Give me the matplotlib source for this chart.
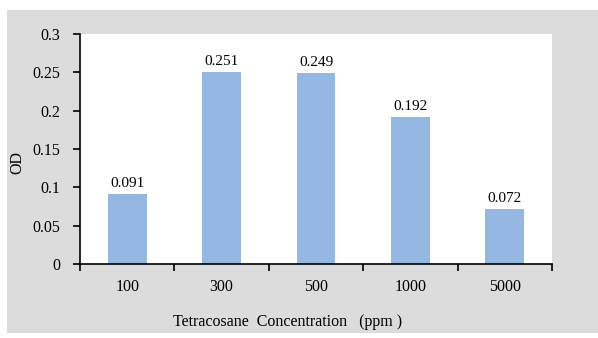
import matplotlib.pyplot as plt
import matplotlib.patches as mpatches
import numpy as np

concentraciones = ['100', '300', '500', '1000', '5000']
od = [0.091, 0.251, 0.249, 0.192, 0.072]
yticks = [0, 0.05, 0.1, 0.15, 0.2, 0.25, 0.3]
ytick_labels = ['0', '0.05', '0.1', '0.15', '0.2', '0.25', '0.3']

plt.rcParams['font.family'] = ['Liberation Serif', 'DejaVu Serif']

W, H = 598, 338
fig = plt.figure(figsize=(W / 100, H / 100), dpi=100)
fig.patch.set_facecolor('white')

# panel gris de fondo
fondo = mpatches.Rectangle((7 / W, 5 / H), (W - 7) / W, (328 - 5) / H,
                           transform=fig.transFigure, facecolor='#dcdcdc',
                           edgecolor='none', zorder=-10)
fig.patches.append(fondo)

ax = fig.add_axes([80 / W, (H - 264) / H, (552 - 80) / W, (264 - 34) / H])
ax.set_facecolor('white')
ax.set_zorder(1)

x = np.arange(len(concentraciones))
ax.bar(x, od, width=0.41, color='#95b8e3', zorder=2)

for xi, v in zip(x, od):
    ax.text(xi, v + 0.005, f'{v:.3f}', ha='center', va='bottom', fontsize=11)

ax.set_xlim(-0.5, len(concentraciones) - 0.5)
ax.set_ylim(0, 0.3)
ax.set_yticks(yticks)
ax.set_yticklabels(ytick_labels, fontsize=11.5)
ax.set_xticks(x)
ax.set_xticklabels(concentraciones, fontsize=11.5)
ax.tick_params(axis='x', length=0, pad=11)
ax.set_xticks(np.arange(-0.5, len(concentraciones), 1.0), minor=True)
ax.tick_params(axis='x', which='minor', length=5, direction='out', width=1.2)
ax.tick_params(axis='y', length=5, direction='out', width=1.2, pad=9)

for s in ['top', 'right']:
    ax.spines[s].set_visible(False)
for s in ['left', 'bottom']:
    ax.spines[s].set_linewidth(1.2)

fig.text(288 / W, (H - 322) / H, 'Tetracosane  Concentration   (ppm )',
         ha='center', va='center', fontsize=11.5)
fig.text(17 / W, (H - 163) / H, 'OD', rotation=90, ha='center',
         va='center', fontsize=11.5)

fig.savefig('out.png', dpi=100)
